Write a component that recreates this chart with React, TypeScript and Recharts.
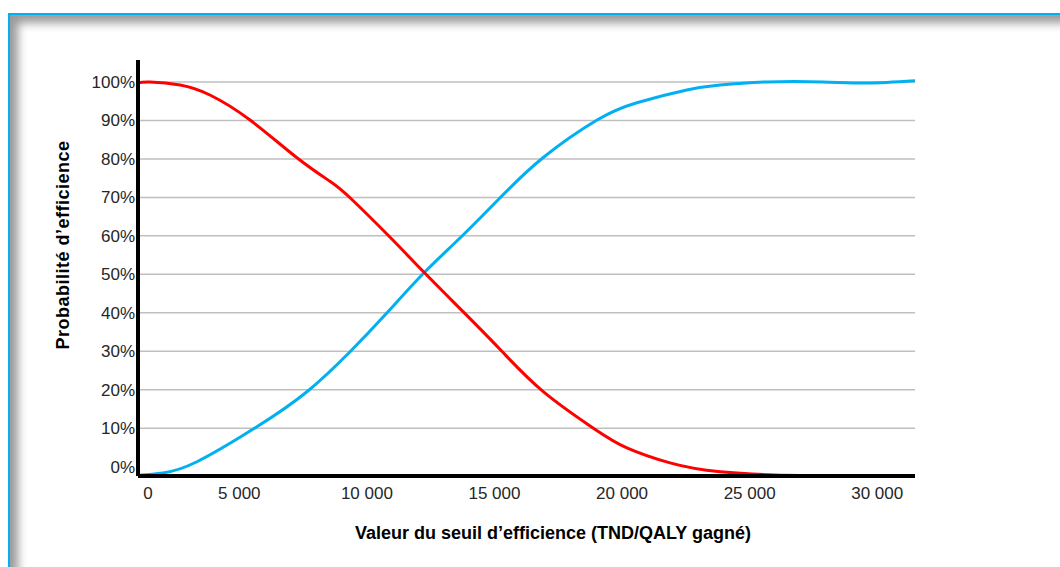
import { LineChart, Line, XAxis, YAxis, CartesianGrid } from 'recharts'

// seuil (TND/QALY) -> probabilité d'efficience (%)
const redX = [1030, 1500, 2680, 3850, 5420, 7260, 8550, 9340, 10900, 12200, 13770, 15290, 16900, 18860, 20190, 21880, 23840, 26970, 29710, 31480]
const redY = [99.8, 100, 99.2, 96.6, 90.1, 80.3, 74.2, 69.9, 59.7, 50.8, 40.3, 30.0, 19.6, 10.1, 4.9, 1.0, -1.3, -2.3, -2.3, -2.5]

const blueX = [1030, 2010, 3340, 5690, 7650, 9340, 10790, 12240, 13690, 15220, 16900, 19020, 20580, 22540, 23840, 25680, 27870, 29600, 31480]
const blueY = [-2.2, -1.6, 1.3, 10.4, 19.5, 29.9, 40.0, 50.4, 59.7, 69.9, 80.3, 90.1, 94.6, 97.9, 99.2, 100, 100, 99.7, 100.3]

const xTickValues = [1420, 5000, 10000, 15000, 20000, 25000, 30000]
const xTickLabels = ['0', '5 000', '10 000', '15 000', '20 000', '25 000', '30 000']
const yTicks = [0, 10, 20, 30, 40, 50, 60, 70, 80, 90, 100]

const redData = redX.map((x, i) => ({ x, y: redY[i] }))
const blueData = blueX.map((x, i) => ({ x, y: blueY[i] }))

const font = '"Liberation Sans", Arial, sans-serif'

export default function App() {
  return (
    <div style={{ position: 'relative', width: 1060, height: 567, overflow: 'hidden', background: '#fff', fontFamily: font }}>
      <style>{'body{margin:0}'}</style>
      <div
        style={{
          position: 'absolute',
          left: 8,
          top: 13,
          width: 1100,
          height: 600,
          border: '2px solid #00B0F0',
          boxShadow: 'inset 8px 8px 10px rgba(0,0,0,0.4)',
        }}
      />
      <div style={{ position: 'absolute', left: 0, top: 0 }}>
        <LineChart width={1060} height={567} margin={{ top: 60, right: 145, left: 0, bottom: 61 }}>
          <CartesianGrid
            vertical={false}
            stroke="#BFBFBF"
            strokeWidth={1.5}
            horizontalValues={yTicks.filter((v) => v > 0)}
          />
          <XAxis
            type="number"
            dataKey="x"
            domain={[1030, 31480]}
            ticks={xTickValues}
            tickFormatter={(_v, i) => xTickLabels[i]}
            tickLine={false}
            tickSize={0}
            tickMargin={11}
            height={30}
            axisLine={{ stroke: '#000', strokeWidth: 4 }}
            tick={{ fill: '#262626', fontSize: 17, fontFamily: font }}
            allowDataOverflow
          />
          <YAxis
            type="number"
            dataKey="y"
            domain={[-2.4, 105.7]}
            ticks={yTicks}
            tickFormatter={(v) => `${v}%`}
            tickLine={false}
            tickSize={0}
            tickMargin={3}
            width={138}
            axisLine={{ stroke: '#000', strokeWidth: 4 }}
            tick={{ fill: '#262626', fontSize: 17, fontFamily: font }}
            allowDataOverflow
          />
          <Line data={blueData} dataKey="y" type="natural" stroke="#00B0F0" strokeWidth={3} dot={false} isAnimationActive={false} />
          <Line data={redData} dataKey="y" type="natural" stroke="#FF0000" strokeWidth={3} dot={false} isAnimationActive={false} />
        </LineChart>
      </div>
      <div
        style={{
          position: 'absolute',
          left: 553,
          top: 533,
          transform: 'translate(-50%, -50%)',
          whiteSpace: 'nowrap',
          fontWeight: 'bold',
          fontSize: 18,
          color: '#000',
        }}
      >
        Valeur du seuil d’efficience (TND/QALY gagné)
      </div>
      <div
        style={{
          position: 'absolute',
          left: 63,
          top: 245,
          transform: 'translate(-50%, -50%) rotate(-90deg)',
          whiteSpace: 'nowrap',
          fontWeight: 'bold',
          fontSize: 18,
          letterSpacing: 0.5,
          color: '#000',
        }}
      >
        Probabilité d’efficience
      </div>
    </div>
  )
}
